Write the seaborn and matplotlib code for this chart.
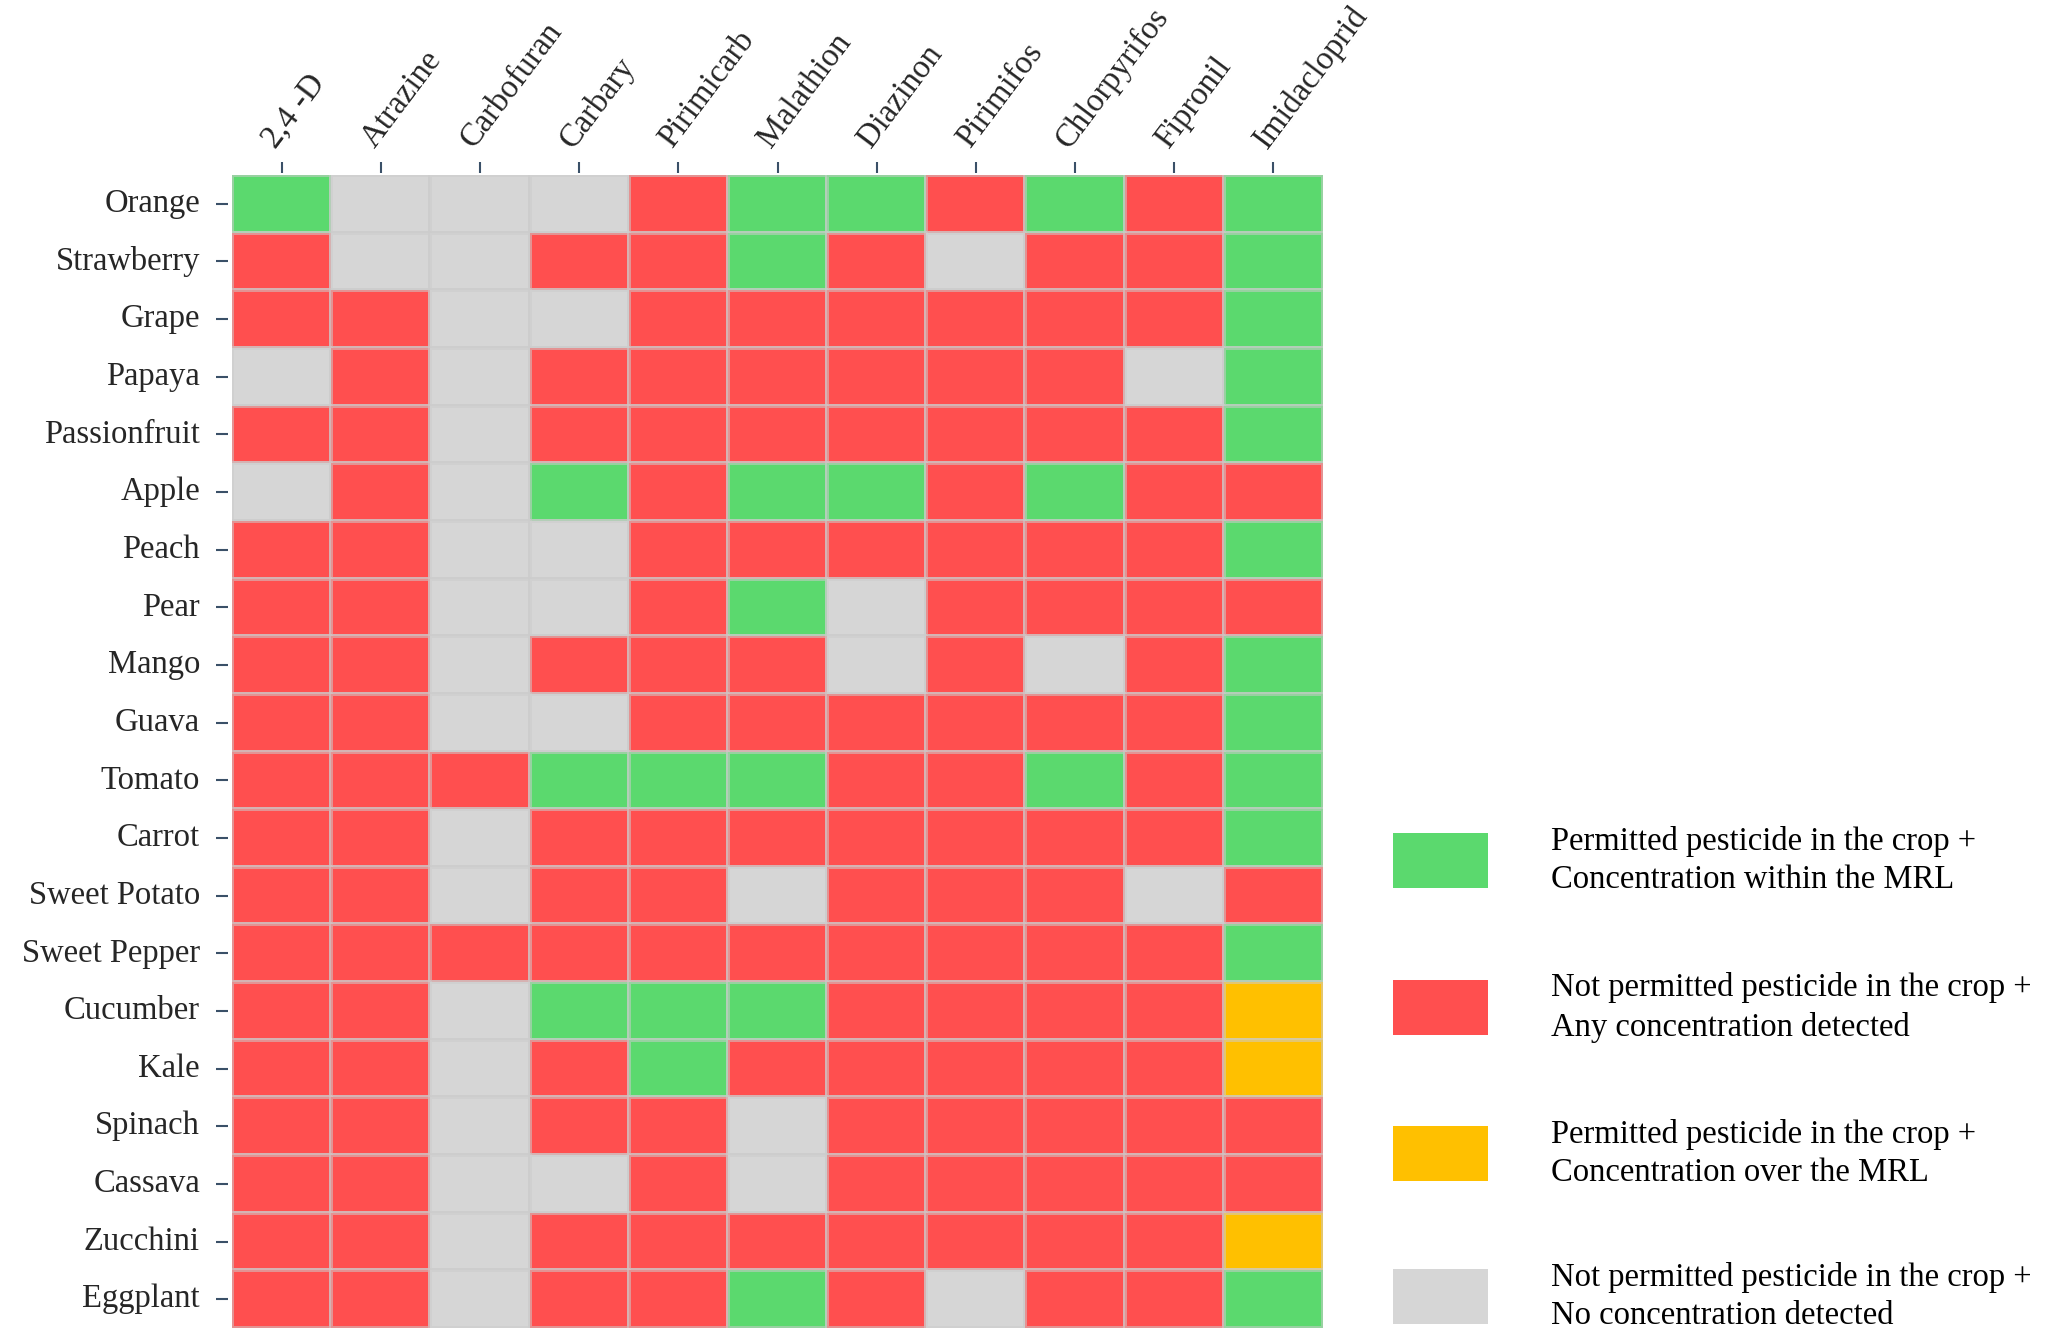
import numpy as np
import pandas as pd
import matplotlib
matplotlib.use("Agg")
import matplotlib.pyplot as plt
from matplotlib.colors import ListedColormap
from matplotlib.patches import Rectangle
from matplotlib.transforms import ScaledTranslation
import seaborn as sns

# ---- data ----
pesticides = ["2,4 -D", "Atrazine", "Carbofuran", "Carbary", "Pirimicarb", "Malathion",
              "Diazinon", "Pirimifos", "Chlorpyrifos", "Fipronil", "Imidacloprid"]
crops = ["Orange", "Strawberry", "Grape", "Papaya", "Passionfruit", "Apple", "Peach", "Pear",
         "Mango", "Guava", "Tomato", "Carrot", "Sweet Potato", "Sweet Pepper", "Cucumber",
         "Kale", "Spinach", "Cassava", "Zucchini", "Eggplant"]
# G = permitted within MRL, R = not permitted detected, Y = permitted over MRL, N = not permitted not detected
status_rows = [
    "GNNNRGGRGRG",  # Orange
    "RNNRRGRNRRG",  # Strawberry
    "RRNNRRRRRRG",  # Grape
    "NRNRRRRRRNG",  # Papaya
    "RRNRRRRRRRG",  # Passionfruit
    "NRNGRGGRGRR",  # Apple
    "RRNNRRRRRRG",  # Peach
    "RRNNRGNRRRR",  # Pear
    "RRNRRRNRNRG",  # Mango
    "RRNNRRRRRRG",  # Guava
    "RRRGGGRRGRG",  # Tomato
    "RRNRRRRRRRG",  # Carrot
    "RRNRRNRRRNR",  # Sweet Potato
    "RRRRRRRRRRG",  # Sweet Pepper
    "RRNGGGRRRRY",  # Cucumber
    "RRNRGRRRRRY",  # Kale
    "RRNRRNRRRRR",  # Spinach
    "RRNNRNRRRRR",  # Cassava
    "RRNRRRRRRRY",  # Zucchini
    "RRNRRGRNRRG",  # Eggplant
]
legend_labels = [
    "Permitted pesticide in the crop +\nConcentration within the MRL",
    "Not permitted pesticide in the crop +\nAny concentration detected",
    "Permitted pesticide in the crop +\nConcentration over the MRL",
    "Not permitted pesticide in the crop +\nNo concentration detected",
]
codes = ["G", "R", "Y", "N"]
colors = ["#5BD96E", "#FF4F4F", "#FFC000", "#D6D6D6"]

code_idx = {c: i for i, c in enumerate(codes)}
matrix = np.array([[code_idx[c] for c in row] for row in status_rows])
df = pd.DataFrame(matrix, index=crops, columns=pesticides)

# ---- style ----
sns.set_style("white")
plt.rcParams["font.family"] = ["Liberation Serif", "DejaVu Serif"]

W, H = 2052, 1343
fs = 23.5
fig = plt.figure(figsize=(W / 100, H / 100), dpi=100)
ax = fig.add_axes([232 / W, 1 - 1328 / H, (1323 - 232) / W, (1328 - 175) / H])

sns.heatmap(df, ax=ax, cmap=ListedColormap(colors), vmin=-0.5, vmax=3.5, cbar=False,
            linewidths=1.6, linecolor=(0.80, 0.80, 0.80, 0.55))

ax.xaxis.tick_top()
ax.spines["top"].set_position(("outward", 1.5))
ax.spines["left"].set_position(("outward", 3))
tick_color = "#3a5068"
ax.tick_params(axis="x", top=True, bottom=False, length=8, width=1.5, color=tick_color,
               labelsize=fs, pad=9)
ax.tick_params(axis="y", left=True, length=8.6, width=1.5, color=tick_color,
               labelsize=fs, pad=11.5)
ax.set_xlabel("")
ax.set_ylabel("")
ax.set_yticklabels(crops, rotation=0, ha="right", va="center")
ax.set_xticklabels(pesticides, rotation=53, ha="left", va="baseline", rotation_mode="anchor")
shift = ScaledTranslation(-6 / 100, 0, fig.dpi_scale_trans)
for lbl in ax.get_xticklabels():
    lbl.set_transform(lbl.get_transform() + shift)

# ---- legend ----
box_tops = [833, 980, 1126, 1269]
box_h = 55
for col, lab, top in zip(colors, legend_labels, box_tops):
    fig.add_artist(Rectangle((1393 / W, 1 - (top + box_h) / H), 95 / W, box_h / H,
                             transform=fig.transFigure, facecolor=col, edgecolor="none"))
    fig.text(1551 / W, 1 - (top + box_h / 2) / H, lab, fontsize=fs, va="center", ha="left",
             linespacing=1.36, color="black")

fig.savefig("out.png", dpi=100)
